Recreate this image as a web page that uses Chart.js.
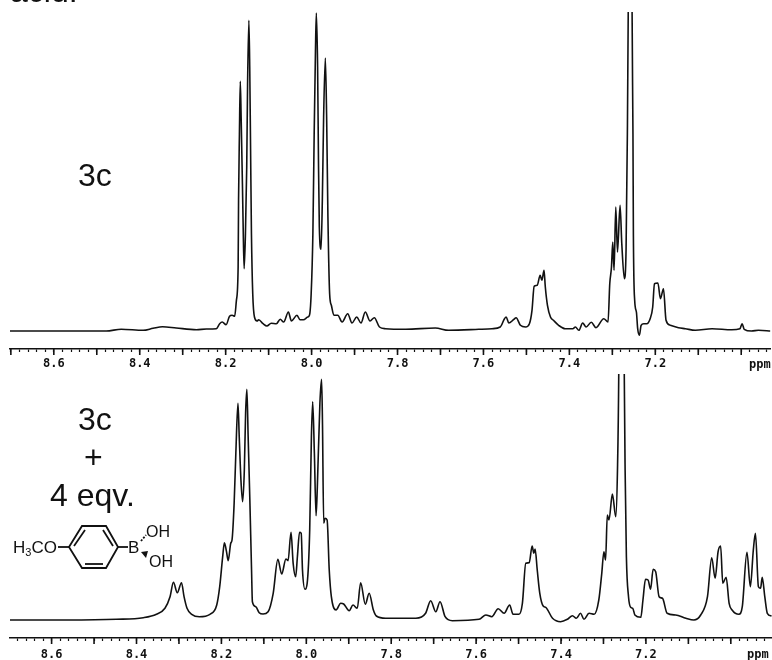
<!DOCTYPE html>
<html>
<head>
<meta charset="utf-8">
<title>3c NMR spectra</title>
<script src="https://cdn.jsdelivr.net/npm/chart.js@4"></script>
<style>
    html, body { margin: 0; padding: 0; background: #fff; }
    #page { position: relative; width: 772px; height: 660px; overflow: hidden; font-family: "Liberation Sans", Arial, sans-serif; color: #111; }
    canvas { position: absolute; left: 0; }
    #topChart { top: 0; }
    #bottomChart { top: 360px; }
    .label { position: absolute; font-size: 32px; line-height: 32px; white-space: nowrap; }
    .ppm { position: absolute; font: bold 12px "DejaVu Sans Mono", monospace; white-space: nowrap; }
    svg { position: absolute; left: 0; top: 0; }
</style>
</head>
<body>
<div id="page">
    <canvas id="topChart" width="772" height="372"></canvas>
    <canvas id="bottomChart" width="772" height="300"></canvas>
    <div class="label" style="left:10px; top:-25px">acid.</div>
    <div class="label" style="left:78px; top:159px">3c</div>
    <div class="label" style="left:78px; top:403px">3c</div>
    <div class="label" style="left:84px; top:441px">+</div>
    <div class="label" style="left:50px; top:479px">4 eqv.</div>
    <div class="ppm" style="left:749px; top:357px">ppm</div>
    <div class="ppm" style="left:747px; top:647px">ppm</div>
    <svg width="772" height="660">
        <g stroke="#111" stroke-width="1.8" fill="none">
            <polygon points="69,547 82,526 106,526 118,547 106,568 82,568"/>
            <line x1="74" y1="546" x2="85" y2="530"/>
            <line x1="103" y1="530" x2="113" y2="546"/>
            <line x1="85" y1="564" x2="103" y2="564"/>
            <line x1="58" y1="547" x2="69" y2="547"/>
            <line x1="118" y1="547" x2="128" y2="547"/>
            <line x1="141" y1="541" x2="146" y2="535" stroke-dasharray="2 1.5"/>
        </g>
        <polygon points="141,552 148,551 146,558" fill="#111"/>
        <g font-family="Liberation Sans, Arial, sans-serif" font-size="17" fill="#111">
            <text x="13" y="553">H<tspan font-size="11" dy="3">3</tspan><tspan dy="-3">CO</tspan></text>
            <text x="128" y="553">B</text>
            <text x="146" y="537" font-size="16">OH</text>
            <text x="149" y="567" font-size="16">OH</text>
        </g>
    </svg>
</div>
<script>
    // Upper spectrum: chemical shift (ppm) and peak height above baseline
    const topPpm = [8.702, 8.609, 8.478, 8.443, 8.392, 8.369, 8.347, 8.315, 8.268, 8.245, 8.222, 8.214, 8.208, 8.199, 8.191, 8.185, 8.179, 8.175, 8.171, 8.170, 8.168, 8.166, 8.164, 8.161, 8.159, 8.157, 8.154, 8.151, 8.149, 8.146, 8.144, 8.142, 8.140, 8.137, 8.133, 8.127, 8.123, 8.113, 8.104, 8.094, 8.082, 8.073, 8.065, 8.054, 8.047, 8.034, 8.027, 8.019, 8.009, 8.005, 8.001, 7.997, 7.994, 7.991, 7.989, 7.986, 7.984, 7.982, 7.978, 7.975, 7.972, 7.968, 7.965, 7.962, 7.958, 7.954, 7.948, 7.939, 7.929, 7.916, 7.906, 7.895, 7.885, 7.875, 7.864, 7.854, 7.842, 7.828, 7.781, 7.712, 7.681, 7.611, 7.580, 7.561, 7.551, 7.547, 7.541, 7.530, 7.524, 7.514, 7.502, 7.493, 7.487, 7.482, 7.475, 7.468, 7.464, 7.459, 7.456, 7.451, 7.444, 7.437, 7.425, 7.410, 7.392, 7.386, 7.378, 7.369, 7.361, 7.349, 7.338, 7.320, 7.310, 7.306, 7.302, 7.299, 7.296, 7.292, 7.288, 7.282, 7.278, 7.272, 7.268, 7.265, 7.263, 7.258, 7.254, 7.252, 7.251, 7.248, 7.244, 7.241, 7.237, 7.233, 7.227, 7.220, 7.212, 7.206, 7.202, 7.194, 7.188, 7.181, 7.175, 7.165, 7.146, 7.130, 7.107, 7.068, 7.022, 7.003, 6.998, 6.993, 6.976, 6.960, 6.931];
    const topIntensity = [0, 0, 0, 1.7, 0.7, 2.7, 4.3, 3, 1.3, 2, 2.3, 7.3, 9, 6.3, 14.7, 15.7, 14.7, 30.7, 64, 130.7, 197, 249.7, 214, 147, 97, 62.3, 97, 164, 247, 310.7, 264, 180.7, 97, 37.3, 14, 10, 11.3, 7.3, 5, 7.7, 7.3, 11.7, 9, 19, 10, 15.7, 11.3, 11.3, 14, 15.7, 37.3, 97.3, 197, 280, 318, 264, 170.7, 104, 81.7, 130.7, 214, 273, 214, 114, 37.3, 25.7, 15.7, 15.7, 9, 17.3, 8, 14, 8, 19, 10, 13.3, 4, 2.3, 1.7, 3, 0.7, 1.7, 2.3, 4, 12.3, 14, 8, 11.3, 13.3, 5.7, 4, 7.3, 20.7, 44.7, 45.7, 55.7, 50.7, 60.7, 44, 25.7, 14, 10.7, 5.7, 2.3, 2.3, 4, 0.7, 8, 4, 8.7, 3.3, 12.3, 9, 47.3, 64, 89, 60.7, 124, 79, 125.7, 87.3, 52.3, 82.3, 197, 319, 900, 319, 197, 97, 30.7, 19, 2.3, -4.3, 5.7, 7.3, 7.3, 12.3, 24, 47.3, 48, 32.3, 42.3, 10.7, 5.7, 3.3, 2.3, 0.7, 2.3, 1.3, 2.3, 7.3, 1.7, 0, 0.7, 0];

    // Lower spectrum, with 4 eqv. of the boronic acid
    const bottomPpm = [8.698, 8.565, 8.447, 8.384, 8.353, 8.333, 8.321, 8.313, 8.304, 8.294, 8.288, 8.281, 8.270, 8.252, 8.227, 8.211, 8.204, 8.197, 8.193, 8.188, 8.184, 8.178, 8.175, 8.170, 8.166, 8.161, 8.158, 8.154, 8.150, 8.146, 8.143, 8.140, 8.137, 8.133, 8.129, 8.127, 8.119, 8.111, 8.102, 8.090, 8.078, 8.067, 8.058, 8.048, 8.043, 8.036, 8.031, 8.025, 8.021, 8.016, 8.012, 8.009, 8.003, 7.998, 7.992, 7.988, 7.985, 7.981, 7.977, 7.974, 7.968, 7.964, 7.962, 7.959, 7.956, 7.951, 7.946, 7.941, 7.930, 7.919, 7.912, 7.899, 7.890, 7.880, 7.872, 7.861, 7.852, 7.842, 7.835, 7.813, 7.742, 7.719, 7.707, 7.695, 7.685, 7.673, 7.656, 7.593, 7.577, 7.563, 7.548, 7.534, 7.521, 7.513, 7.499, 7.491, 7.483, 7.475, 7.468, 7.464, 7.461, 7.456, 7.450, 7.442, 7.436, 7.420, 7.401, 7.385, 7.373, 7.364, 7.354, 7.346, 7.334, 7.322, 7.311, 7.304, 7.299, 7.295, 7.291, 7.287, 7.279, 7.271, 7.267, 7.264, 7.257, 7.251, 7.249, 7.246, 7.241, 7.236, 7.231, 7.226, 7.212, 7.207, 7.201, 7.195, 7.189, 7.183, 7.177, 7.169, 7.161, 7.150, 7.130, 7.106, 7.087, 7.071, 7.055, 7.045, 7.037, 7.030, 7.024, 7.019, 7.011, 7.004, 6.997, 6.981, 6.973, 6.962, 6.954, 6.947, 6.942, 6.935, 6.930, 6.926, 6.920, 6.914, 6.904];
    const bottomIntensity = [0, 0, 0.7, 2.3, 5.7, 11.7, 23.3, 37.7, 27.3, 37.3, 23.3, 11.7, 5.7, 3.3, 5.7, 15, 33.3, 63.3, 77.3, 68.3, 59.3, 76.7, 80, 116.7, 166.7, 216.7, 183.3, 140, 118.3, 150, 206.7, 230.7, 183.3, 120, 50, 18.3, 13.3, 7.3, 6, 8.3, 26.7, 60.7, 46, 61, 59.3, 87.7, 56.7, 43.3, 63.3, 87.7, 86.7, 50, 30.7, 36.7, 90, 183.3, 218.3, 166.7, 104.3, 133.3, 216.7, 240.7, 200, 96.7, 101.7, 100, 50, 23.3, 10, 16.7, 16, 9.3, 15, 11.7, 37.3, 15.7, 26.7, 10, 4, 1.7, 1.7, 6.7, 19.3, 8.3, 18.3, 3.3, -0.7, 0.7, 5, 3.3, 11.3, 6.7, 15, 5.7, 5.7, 16.7, 56.7, 57.3, 74, 66.7, 71, 50, 26.7, 14, 12.7, 1.7, -1.7, 0.7, 4.3, 1.7, 6.7, 0.7, 6.7, 5.7, 20, 46.7, 68.3, 60, 105, 100, 126, 103.3, 150, 246, 800, 246, 150, 63.3, 23.3, 12.7, 11.7, 5, 2.7, 20, 40.7, 40, 30.7, 50.7, 48.3, 23.3, 21.7, 6.7, 5, 1.7, 0, 5, 23.3, 62.3, 41.7, 68.3, 74, 36.7, 42.7, 16.7, 10, 5.7, 13.3, 67.7, 33.3, 70, 86.7, 33.3, 31.7, 42.7, 23.3, 6.7, 4];

    // Shift values that get a printed label on the ruler
    const tickLabels = ['8.6', '8.4', '8.2', '8.0', '7.8', '7.6', '7.4', '7.2'];

    // Longer marks every 0.1 ppm, drawn on top of the 0.02 ppm ticks
    const majorTicks = {
        id: 'majorTicks',
        afterDraw(chart) {
            const scale = chart.scales.x;
            const ctx = chart.ctx;
            ctx.save();
            ctx.strokeStyle = '#111';
            ctx.lineWidth = 1.6;
            scale.ticks.forEach(tick => {
                if (Math.round(tick.value * 100) % 10 === 0) {
                    const px = scale.getPixelForValue(tick.value);
                    ctx.beginPath();
                    ctx.moveTo(px, scale.top);
                    ctx.lineTo(px, scale.top + 6);
                    ctx.stroke();
                }
            });
            ctx.restore();
        }
    };

    function drawSpectrum(canvasId, ppm, intensity, xMin, xMax, yMin, yMax, topPad, axisHeight, labelPad) {
        return new Chart(document.getElementById(canvasId), {
            type: 'line',
            data: {
                datasets: [{
                    data: ppm.map((p, i) => ({ x: p, y: intensity[i] })),
                    borderColor: '#111',
                    borderWidth: 1.6,
                    pointRadius: 0,
                    cubicInterpolationMode: 'monotone'
                }]
            },
            options: {
                responsive: false,
                animation: false,
                layout: { padding: { left: 10, top: topPad, right: 0, bottom: 0 } },
                plugins: { legend: { display: false }, tooltip: { enabled: false } },
                scales: {
                    x: {
                        type: 'linear',
                        reverse: true,
                        min: xMin,
                        max: xMax,
                        afterFit: scale => { scale.height = axisHeight; },
                        border: { color: '#111', width: 1.5 },
                        grid: { drawOnChartArea: false, tickLength: 3, tickColor: '#111', tickWidth: 1.2 },
                        ticks: {
                            stepSize: 0.02,
                            includeBounds: false,
                            autoSkip: false,
                            maxRotation: 0,
                            padding: labelPad,
                            color: '#111',
                            font: { family: '"DejaVu Sans Mono", monospace', size: 12, weight: 'bold' },
                            callback: value => {
                                const label = value.toFixed(1);
                                return Math.abs(value - Number(label)) < 0.001 && tickLabels.includes(label) ? label : '';
                            }
                        }
                    },
                    y: { display: false, min: yMin, max: yMax }
                }
            },
            plugins: [majorTicks]
        });
    }

    drawSpectrum('topChart', topPpm, topIntensity, 6.9326, 8.702, -18, 319, 12, 23, 5);
    drawSpectrum('bottomChart', bottomPpm, bottomIntensity, 6.903, 8.698, -18, 246, 14, 22, 7);
</script>
</body>
</html>
